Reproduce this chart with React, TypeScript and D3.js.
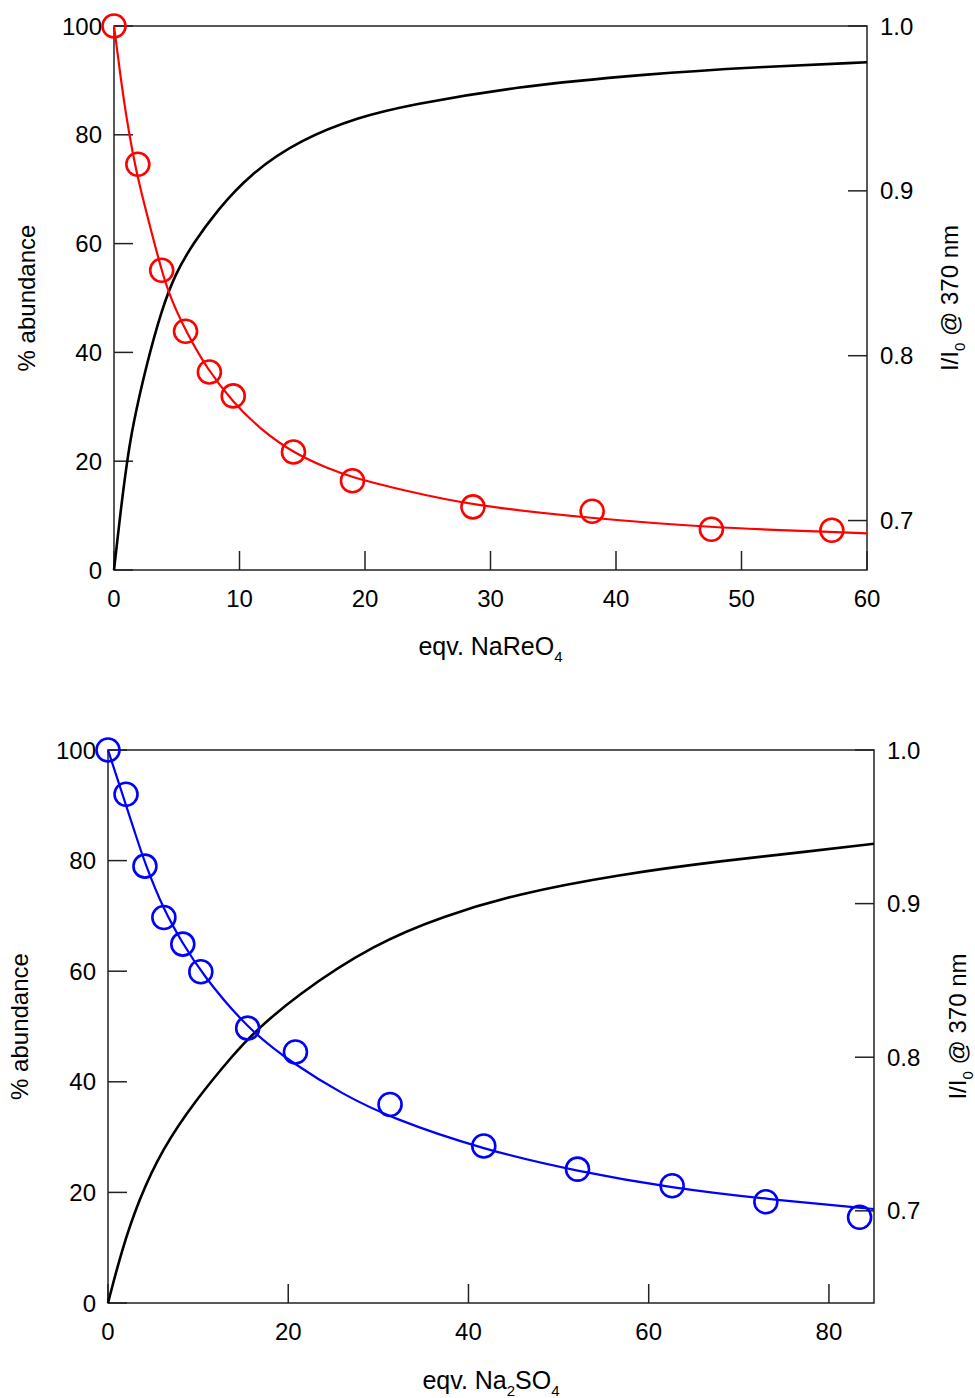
import React from "react";
import * as d3 from "d3";

// ---------- Top panel (NaReO4) ----------
const topPointsX = [0, 1.9, 3.8, 5.7, 7.6, 9.5, 14.3, 19.0, 28.6, 38.1, 47.6, 57.2];
const topPointsY = [100, 74.6, 55.1, 43.9, 36.4, 32.0, 21.7, 16.4, 11.6, 10.8, 7.5, 7.3];
const topFitX = [0, 0.5, 1, 1.5, 2, 3, 3.8, 4.5, 5.7, 7.4, 9.5, 11.6, 14.3, 17, 19, 22.8, 28.6, 38, 47.5, 57.1, 60];
const topFitY = [100, 91, 83, 76.5, 71, 62, 55, 50, 44, 37, 30.8, 26, 21.5, 18.7, 17, 14.8, 11.8, 9.5, 7.8, 7.0, 6.75];
const topFluorX = [0, 0.5, 1, 1.5, 2.6, 3.8, 4.9, 6.3, 8.2, 10.8, 14.8, 19.6, 23.5, 31.7, 42.7, 50.9, 60];
const topFluorY = [0.670, 0.704, 0.734, 0.758, 0.795, 0.828, 0.850, 0.868, 0.888, 0.910, 0.931, 0.945, 0.952, 0.963, 0.971, 0.975, 0.978];
const topXTicks = [0, 10, 20, 30, 40, 50, 60];
const leftTicks = [0, 20, 40, 60, 80, 100];
const rightTicks = [0.7, 0.8, 0.9, 1.0];

// ---------- Bottom panel (Na2SO4) ----------
const botPointsX = [0, 2.0, 4.1, 6.2, 8.3, 10.3, 15.5, 20.8, 31.3, 41.7, 52.1, 62.6, 73.0, 83.4];
const botPointsY = [100, 92.0, 79.0, 69.7, 64.9, 59.9, 49.7, 45.4, 35.9, 28.4, 24.2, 21.2, 18.3, 15.5];
const botFitX = [0, 1, 2, 3, 4.1, 6.2, 8.3, 10.4, 15.5, 20.8, 26, 31.3, 41.7, 52.1, 62.6, 73, 85];
const botFitY = [100, 95, 90, 85, 79.5, 71, 65, 59.6, 49.5, 43, 37.8, 33.5, 27.7, 23.8, 20.8, 18.8, 17.0];
const botFluorX = [0, 1.5, 3.4, 6, 9.7, 14.1, 16, 20.8, 29.6, 37.3, 45.1, 56.7, 68.3, 77.9, 85];
const botFluorY = [0.640, 0.674, 0.707, 0.740, 0.772, 0.803, 0.815, 0.840, 0.874, 0.892, 0.906, 0.919, 0.928, 0.934, 0.939];
const botXTicks = [0, 20, 40, 60, 80];

const FONT = "Liberation Sans, Arial, Helvetica, sans-serif";
const FS = 24;
const TICK = 19;
const AXIS_COLOR = "#222";

type PanelProps = {
  left: number; right: number; top: number; bottom: number;
  xMax: number; rMin: number;
  xTicks: number[];
  pointsX: number[]; pointsY: number[];
  fitX: number[]; fitY: number[];
  fluorX: number[]; fluorY: number[];
  color: string;
  xTitle: React.ReactNode;
  yTitleX: number; rTitleX: number; xTitleY: number;
};

function Panel(p: PanelProps) {
  const x = d3.scaleLinear().domain([0, p.xMax]).range([p.left, p.right]);
  const y = d3.scaleLinear().domain([0, 100]).range([p.bottom, p.top]);
  const r = d3.scaleLinear().domain([p.rMin, 1.0]).range([p.bottom, p.top]);

  const fitLine = d3.line<number>()
    .x((_, i) => x(p.fitX[i]))
    .y((v) => y(v))
    .curve(d3.curveBasis);
  const fluorLine = d3.line<number>()
    .x((_, i) => x(p.fluorX[i]))
    .y((v) => r(v))
    .curve(d3.curveBasis);

  const midY = (p.top + p.bottom) / 2;
  const midX = (p.left + p.right) / 2;

  return (
    <g fontFamily={FONT} fontSize={FS} fill="#000">
      <rect x={p.left} y={p.top} width={p.right - p.left} height={p.bottom - p.top}
        fill="none" stroke={AXIS_COLOR} strokeWidth={1.5} />
      {leftTicks.map((t) => (
        <g key={"l" + t}>
          <line x1={p.left} x2={p.left + TICK} y1={y(t)} y2={y(t)} stroke={AXIS_COLOR} strokeWidth={1.5} />
          <text x={p.left - 12} y={y(t)} dy="0.36em" textAnchor="end">{t}</text>
        </g>
      ))}
      {rightTicks.map((t) => (
        <g key={"r" + t}>
          <line x1={p.right - TICK} x2={p.right} y1={r(t)} y2={r(t)} stroke={AXIS_COLOR} strokeWidth={1.5} />
          <text x={p.right + 13} y={r(t)} dy="0.36em" textAnchor="start">{t.toFixed(1)}</text>
        </g>
      ))}
      {p.xTicks.map((t) => (
        <g key={"x" + t}>
          <line x1={x(t)} x2={x(t)} y1={p.bottom} y2={p.bottom - TICK} stroke={AXIS_COLOR} strokeWidth={1.5} />
          <text x={x(t)} y={p.bottom + 37} textAnchor="middle">{t}</text>
        </g>
      ))}
      <path d={fluorLine(p.fluorY) || ""} fill="none" stroke="#000" strokeWidth={2.6} />
      <path d={fitLine(p.fitY) || ""} fill="none" stroke={p.color} strokeWidth={2.2} />
      {p.pointsX.map((px, i) => (
        <circle key={"c" + i} cx={x(px)} cy={y(p.pointsY[i])} r={11.5}
          fill="none" stroke={p.color} strokeWidth={2.6} />
      ))}
      <text x={midX} y={p.xTitleY} textAnchor="middle" fontSize={25}>{p.xTitle}</text>
      <text transform={`translate(${p.yTitleX},${midY}) rotate(-90)`} textAnchor="middle">% abundance</text>
      <text transform={`translate(${p.rTitleX},${midY}) rotate(-90)`} textAnchor="middle">
        I/I<tspan fontSize={15} dy={7}>0</tspan><tspan dy={-7}> @ 370 nm</tspan>
      </text>
    </g>
  );
}

export default function App() {
  return (
    <svg width={975} height={1398} style={{ position: "absolute", left: 0, top: 0, background: "#fff" }}>
      <Panel
        left={114} right={867} top={26} bottom={570}
        xMax={60} rMin={0.67}
        xTicks={topXTicks}
        pointsX={topPointsX} pointsY={topPointsY}
        fitX={topFitX} fitY={topFitY}
        fluorX={topFluorX} fluorY={topFluorY}
        color="#ff0000"
        xTitle={<>eqv. NaReO<tspan fontSize={15} dy={7}>4</tspan></>}
        yTitleX={35} rTitleX={958} xTitleY={655}
      />
      <Panel
        left={108} right={874} top={750} bottom={1303}
        xMax={85} rMin={0.64}
        xTicks={botXTicks}
        pointsX={botPointsX} pointsY={botPointsY}
        fitX={botFitX} fitY={botFitY}
        fluorX={botFluorX} fluorY={botFluorY}
        color="#0000ff"
        xTitle={<>eqv. Na<tspan fontSize={15} dy={7}>2</tspan><tspan dy={-7}>SO</tspan><tspan fontSize={15} dy={7}>4</tspan></>}
        yTitleX={28} rTitleX={966} xTitleY={1389}
      />
    </svg>
  );
}
